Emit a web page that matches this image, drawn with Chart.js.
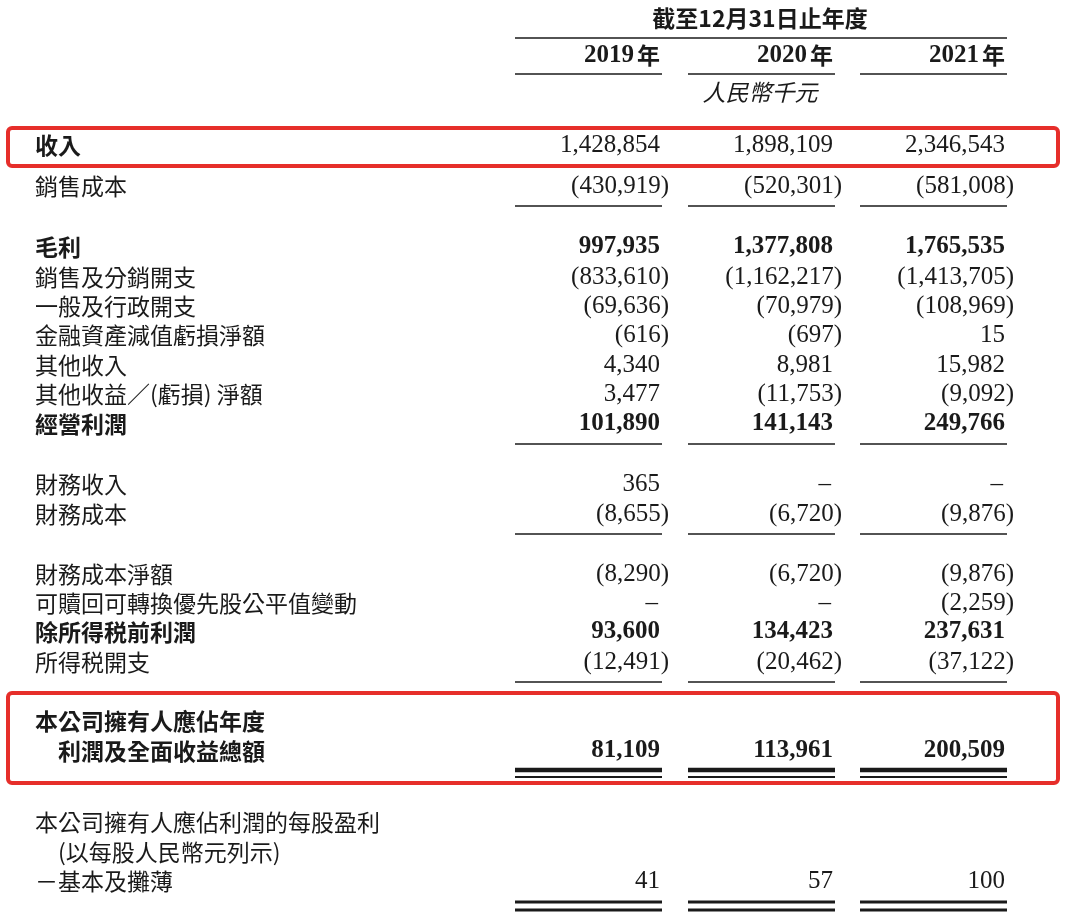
<!DOCTYPE html>
<html><head><meta charset="utf-8">
<script src="https://cdn.jsdelivr.net/npm/chart.js@4"></script>
<style>html,body{margin:0;padding:0;background:#fff}canvas{display:block}</style>
</head><body>
<canvas id="c" width="1080" height="924"></canvas>
<script>
const years = ['2019年', '2020年', '2021年'];
const unitLabel = '人民幣千元';
const periodLabel = '截至12月31日止年度';
const rowLabels = ['收入','銷售成本','毛利','銷售及分銷開支','一般及行政開支','金融資產減值虧損淨額','其他收入','其他收益／(虧損) 淨額','經營利潤','財務收入','財務成本','財務成本淨額','可贖回可轉換優先股公平值變動','除所得税前利潤','所得税開支','本公司擁有人應佔年度','　利潤及全面收益總額','本公司擁有人應佔利潤的每股盈利','　(以每股人民幣元列示)','－基本及攤薄'];
const rowBold = [true,false,true,false,false,false,false,false,true,false,false,false,false,true,false,true,true,false,false,false];
const numBold = [false,false,true,false,false,false,false,false,true,false,false,false,false,true,false,true,true,false,false,false];
const rowLine = [145,186,247,277,306,335,365,394,424,484,514,574,603,632,662,721,751,822,852,881];
const v2019 = [1428854,-430919,997935,-833610,-69636,-616,4340,3477,101890,365,-8655,-8290,'–',93600,-12491,null,81109,null,null,41];
const v2020 = [1898109,-520301,1377808,-1162217,-70979,-697,8981,-11753,141143,'–',-6720,-6720,'–',134423,-20462,null,113961,null,null,57];
const v2021 = [2346543,-581008,1765535,-1413705,-108969,15,15982,-9092,249766,'–',-9876,-9876,-2259,237631,-37122,null,200509,null,null,100];
const colX = [660, 833, 1005];
const series = [v2019, v2020, v2021];

const pts = [];
series.forEach((s, ci) => s.forEach((v, ri) => pts.push({x: colX[ci], y: rowLine[ri], ci, ri})));
const labelPts = rowLabels.map((l, ri) => ({x: 35, y: rowLine[ri], ri}));

const SERIF = '"Liberation Serif","DejaVu Serif",serif';
const CJK = '"Noto Sans CJK TC","Noto Sans CJK SC",sans-serif';
function fmt(n){return Math.abs(n).toLocaleString('en-US');}

const tablePlugin = {
  id: 'table',
  afterDatasetsDraw(chart) {
    const ctx = chart.ctx, xs = chart.scales.x, ys = chart.scales.y;
    const X = v => xs.getPixelForValue(v), Y = v => ys.getPixelForValue(v);
    ctx.save();
    ctx.fillStyle = '#1a1a1a'; ctx.strokeStyle = '#1a1a1a';
    ctx.textBaseline = 'middle';
    ctx.font = 'bold 23px ' + CJK; ctx.textAlign = 'center';
    ctx.fillText(periodLabel, X(760), Y(18));
    ctx.lineWidth = 1.5;
    ctx.beginPath(); ctx.moveTo(X(515), Y(38)); ctx.lineTo(X(1007), Y(38)); ctx.stroke();
    colX.forEach((cx, i) => {
      ctx.textAlign = 'right';
      ctx.font = 'bold 25px ' + SERIF;
      ctx.fillText(years[i].replace('年',''), cx - 26, Y(56));
      ctx.font = 'bold 23px ' + CJK;
      ctx.fillText('年', cx, Y(55));
      ctx.beginPath(); ctx.moveTo(cx - 145, Y(74)); ctx.lineTo(cx + 2, Y(74)); ctx.stroke();
    });
    ctx.font = 'italic 23px ' + CJK; ctx.textAlign = 'center';
    ctx.fillText(unitLabel, X(760), Y(92));
    chart.getDatasetMeta(1).data.forEach((el, i) => {
      ctx.textAlign = 'left';
      ctx.font = (rowBold[i] ? 'bold ' : '') + '23px ' + CJK;
      ctx.fillText(rowLabels[i], el.x, el.y);
    });
    chart.getDatasetMeta(0).data.forEach((el, i) => {
      const p = pts[i], v = series[p.ci][p.ri];
      if (v === null) return;
      ctx.font = (numBold[p.ri] ? 'bold ' : '') + '25px ' + SERIF;
      ctx.textAlign = 'right';
      if (v === '–') { ctx.fillText('–', el.x - 2, el.y); return; }
      if (v < 0) ctx.fillText('(' + fmt(v) + ')', el.x + 9, el.y);
      else ctx.fillText(fmt(v), el.x, el.y);
    });
    const rule = (y, w) => { ctx.lineWidth = w; colX.forEach(cx => { ctx.beginPath(); ctx.moveTo(cx - 145, Y(y)); ctx.lineTo(cx + 2, Y(y)); ctx.stroke(); }); };
    rule(206, 1.5); rule(444, 1.5); rule(534, 1.5); rule(682, 1.5);
    rule(770, 4.5); rule(777, 2);
    rule(902, 3); rule(910, 3);
    ctx.strokeStyle = '#e62e2a'; ctx.lineWidth = 4;
    const box = (x1, y1, x2, y2) => { ctx.beginPath(); ctx.roundRect(X(x1), Y(y1), X(x2) - X(x1), Y(y2) - Y(y1), 4); ctx.stroke(); };
    box(8, 128, 1058, 166);
    box(8, 693, 1058, 783);
    ctx.restore();
  }
};

new Chart(document.getElementById('c'), {
  type: 'scatter',
  data: { datasets: [
    { data: pts, pointRadius: 0, pointHoverRadius: 0 },
    { data: labelPts, pointRadius: 0, pointHoverRadius: 0 }
  ]},
  options: {
    responsive: false, animation: false, events: [],
    layout: { padding: 0 },
    plugins: { legend: { display: false }, tooltip: { enabled: false } },
    scales: {
      x: { type: 'linear', min: 0, max: 1080, display: false },
      y: { type: 'linear', min: 0, max: 924, reverse: true, display: false }
    }
  },
  plugins: [tablePlugin]
});
</script>
</body></html>
